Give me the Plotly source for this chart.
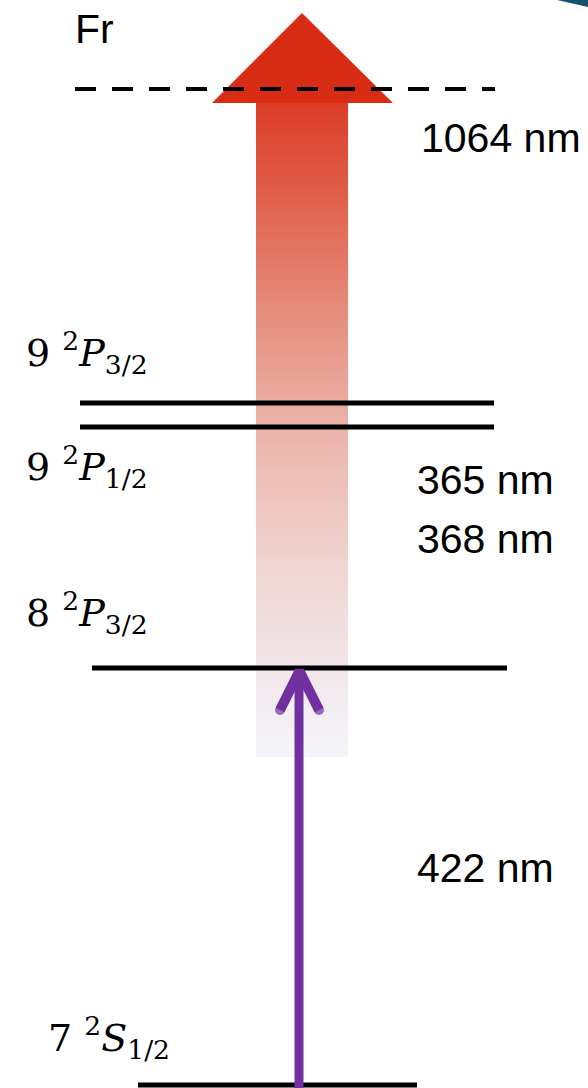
import numpy as np
import plotly.graph_objects as go

# Energy levels (height above the ground-state line, in diagram units)
level_labels = ["7 <sup>2</sup><i>S</i><sub>1/2</sub>",
                "8 <sup>2</sup><i>P</i><sub>3/2</sub>",
                "9 <sup>2</sup><i>P</i><sub>1/2</sub>",
                "9 <sup>2</sup><i>P</i><sub>3/2</sub>"]
level_energy = [3, 420, 661, 685]
virtual_level = 999            # dashed level reached by the 1064 nm photon

# Transition wavelengths and where their captions sit
wavelength_text = ["1064 nm", "365 nm", "368 nm", "422 nm"]
wavelength_y = [950, 608, 549, 220]

element = "Fr"

W, H = 588, 1088

# horizontal extents of each level line
level_x = [(138, 417), (92, 507), (80, 494), (80, 494)]
label_pos = [(46, 51), (24, 476), (24, 622), (24, 736)]
caption_x = [419, 415, 415, 415]

fig = go.Figure()

# --- 1064 nm broad arrow: shaft with a vertical colour gradient ---
shaft_bottom, shaft_top = 331, 985
ny = 260
y_edges = np.linspace(shaft_bottom, shaft_top, ny + 1)
y_mid = 0.5 * (y_edges[:-1] + y_edges[1:])
fig.add_trace(go.Heatmap(
    x=[256, 348], y=y_edges, z=y_mid.reshape(-1, 1),
    zmin=shaft_bottom, zmax=shaft_top,
    colorscale=[[0.0, "rgb(243,245,251)"],
                [0.12, "rgb(242,232,236)"],
                [0.30, "rgb(239,212,208)"],
                [0.50, "rgb(235,180,170)"],
                [0.65, "rgb(231,148,132)"],
                [0.82, "rgb(225,105,85)"],
                [1.0, "rgb(219,60,38)"]],
    showscale=False, hoverinfo="skip", zsmooth=False,
))
# arrow head
fig.add_trace(go.Scatter(
    x=[212, 302, 393, 212], y=[985, 1075, 985, 985],
    mode="lines", fill="toself", fillcolor="rgb(216,44,20)",
    line=dict(width=0, color="rgb(216,44,20)"), hoverinfo="skip",
))

# --- level lines ---
for (x0, x1), e in zip(level_x, level_energy):
    fig.add_trace(go.Scatter(x=[x0, x1], y=[e, e], mode="lines",
                             line=dict(color="black", width=5), hoverinfo="skip"))

# virtual level
fig.add_trace(go.Scatter(x=[75, 495], y=[virtual_level, virtual_level], mode="lines",
                         line=dict(color="black", width=4, dash="21px,16px"),
                         hoverinfo="skip"))

# --- 422 nm excitation arrow ---
purple = "rgb(112,48,160)"
tip = level_energy[1] - 3
fig.add_trace(go.Scatter(x=[299, 299], y=[0, tip], mode="lines",
                         line=dict(color=purple, width=9), hoverinfo="skip"))
fig.add_trace(go.Scatter(x=[280, 299.5, 319], y=[tip - 39, tip, tip - 39],
                         mode="lines+markers",
                         line=dict(color=purple, width=10),
                         marker=dict(color=purple, size=[10, 0, 10],
                                     line=dict(width=0)),
                         hoverinfo="skip"))

# corner decoration
fig.add_trace(go.Scatter(x=[557, 588, 588, 557], y=[1088, 1088, 1081, 1088],
                         mode="lines", fill="toself", fillcolor="rgb(22,82,110)",
                         line=dict(width=0), hoverinfo="skip"))

# --- text ---
ann = []
for (lx, ly), txt in zip(label_pos, level_labels):
    ann.append(dict(x=lx, y=ly, text=txt, showarrow=False, xanchor="left", yanchor="middle",
                    font=dict(family="DejaVu Serif", size=38, color="black")))
for txt, x, y in zip(wavelength_text, caption_x, wavelength_y):
    ann.append(dict(x=x, y=y, text=txt, showarrow=False, xanchor="left", yanchor="middle",
                    font=dict(family="Liberation Sans, Arial", size=41, color="black")))
ann.append(dict(x=73, y=1059, text=element, showarrow=False, xanchor="left", yanchor="middle",
                font=dict(family="Liberation Sans, Arial", size=41, color="black")))

fig.update_layout(
    width=W, height=H, margin=dict(l=0, r=0, t=0, b=0),
    paper_bgcolor="white", plot_bgcolor="white", showlegend=False,
    xaxis=dict(range=[0, W], visible=False, fixedrange=True),
    yaxis=dict(range=[0, H], visible=False, fixedrange=True),
    annotations=ann,
)

fig.write_html("out.html")
